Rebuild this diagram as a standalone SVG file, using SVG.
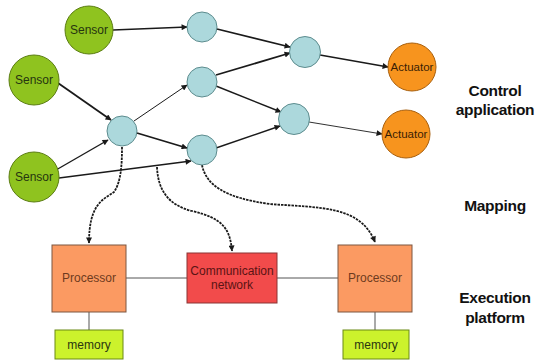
<svg xmlns="http://www.w3.org/2000/svg" width="539" height="362" viewBox="0 0 539 362">
  <style>
    text { font-family: "Liberation Sans", Arial, sans-serif; text-anchor: middle; dominant-baseline: central; }
    .sensor circle { fill: #8fc31f; stroke: #5b7d12; stroke-width: 1; }
    .sensor text { font-size: 12px; fill: #263510; }
    .task circle { fill: #acd8dc; stroke: #5d8c8e; stroke-width: 1; }
    .act circle { fill: #f7941e; stroke: #a8600f; stroke-width: 1; }
    .act text { font-size: 11.5px; fill: #3a1e05; }
    .proc rect { fill: #fb9a62; stroke: #7d5640; stroke-width: 1; }
    .proc text { font-size: 12px; fill: #6e3a1e; }
    .net rect { fill: #f24b4b; stroke: #8a3434; stroke-width: 1; }
    .net text { font-size: 12px; fill: #5a1414; }
    .mem rect { fill: #ccf22c; stroke: #6a8a14; stroke-width: 1; }
    .mem text { font-size: 12px; fill: #2a3510; }
    .label { font-size: 15.5px; font-weight: bold; fill: #111; letter-spacing: -0.3px; }
    .edge { stroke: #1a1a1a; fill: none; marker-end: url(#arrow); }
    .map { stroke: #1a1a1a; fill: none; stroke-width: 1.8; stroke-dasharray: 2.5 1; marker-end: url(#arrow); }
    .link { stroke: #555; stroke-width: 1; fill: none; }
  </style>
  <defs>
    <marker id="arrow" viewBox="0 0 10 10" refX="9" refY="5" markerWidth="7" markerHeight="6" markerUnits="userSpaceOnUse" orient="auto">
      <path d="M0,0 L10,5 L0,10 z" fill="#1a1a1a"/>
    </marker>
  </defs>

  <!-- connectors -->
  <g id="connectors">
    <line class="edge" x1="113" y1="30" x2="187" y2="27" stroke-width="1.4"/>
    <line class="edge" x1="217" y1="29" x2="290" y2="47" stroke-width="1.8"/>
    <line class="edge" x1="216" y1="75" x2="290" y2="53" stroke-width="1.8"/>
    <line class="edge" x1="320" y1="55" x2="388" y2="67" stroke-width="1.4"/>
    <line class="edge" x1="58" y1="83" x2="111" y2="120" stroke-width="1.8"/>
    <line class="edge" x1="134" y1="121" x2="187" y2="85" stroke-width="1"/>
    <line class="edge" x1="137" y1="133" x2="187" y2="148" stroke-width="1.8"/>
    <line class="edge" x1="56" y1="170" x2="108" y2="140" stroke-width="1.4"/>
    <line class="edge" x1="59" y1="178" x2="191" y2="161" stroke-width="1.4"/>
    <line class="edge" x1="216" y1="86" x2="281" y2="112" stroke-width="1.4"/>
    <line class="edge" x1="216" y1="148" x2="280" y2="126" stroke-width="1.4"/>
    <line class="edge" x1="309" y1="122" x2="382" y2="134" stroke-width="0.9"/>
    <path class="map" d="M122,147 C122,165 121,182 114,192 C102,200 89,205 89,243"/>
    <path class="map" d="M157,167 C158,190 168,205 192,211 C222,218 230,228 232,251"/>
    <path class="map" d="M202,165 C206,185 225,198 270,204 C320,208 360,205 375,242"/>
    <line class="link" x1="126" y1="278" x2="187" y2="278"/>
    <line class="link" x1="277" y1="278" x2="338" y2="278"/>
    <line class="link" x1="89" y1="312" x2="89" y2="330"/>
    <line class="link" x1="375" y1="312" x2="375" y2="330"/>
  </g>

  <!-- sensors -->
  <g id="sensor1" class="sensor"><circle cx="89" cy="30" r="24"/><text x="89" y="30">Sensor</text></g>
  <g id="sensor2" class="sensor"><circle cx="34" cy="80" r="25"/><text x="34" y="80">Sensor</text></g>
  <g id="sensor3" class="sensor"><circle cx="34" cy="177" r="25"/><text x="34" y="177">Sensor</text></g>

  <!-- tasks -->
  <g id="task1" class="task"><circle cx="202" cy="27" r="15"/></g>
  <g id="task2" class="task"><circle cx="202" cy="82" r="15"/></g>
  <g id="task3" class="task"><circle cx="202" cy="150" r="15"/></g>
  <g id="task4" class="task"><circle cx="122" cy="131" r="15"/></g>
  <g id="task5" class="task"><circle cx="305" cy="52" r="15.5"/></g>
  <g id="task6" class="task"><circle cx="294" cy="119" r="15.5"/></g>

  <!-- actuators -->
  <g id="actuator1" class="act"><circle cx="412" cy="67" r="24"/><text x="412" y="67">Actuator</text></g>
  <g id="actuator2" class="act"><circle cx="406" cy="134" r="24"/><text x="406" y="134">Actuator</text></g>

  <!-- platform -->
  <g id="processor1" class="proc"><rect x="52" y="245" width="74" height="67"/><text x="89" y="278">Processor</text></g>
  <g id="network" class="net"><rect x="187" y="253" width="90" height="50"/><text x="232" y="271">Communication</text><text x="232" y="285">network</text></g>
  <g id="processor2" class="proc"><rect x="338" y="245" width="74" height="67"/><text x="375" y="278">Processor</text></g>
  <g id="memory1" class="mem"><rect x="55" y="330" width="68" height="29"/><text x="89" y="345">memory</text></g>
  <g id="memory2" class="mem"><rect x="343" y="330" width="66" height="29"/><text x="376" y="345">memory</text></g>

  <!-- layer labels -->
  <g id="labels">
    <text class="label" x="495" y="90">Control</text>
    <text class="label" x="495" y="109">application</text>
    <text class="label" x="495" y="205">Mapping</text>
    <text class="label" x="495" y="297">Execution</text>
    <text class="label" x="495" y="317">platform</text>
  </g>
</svg>
